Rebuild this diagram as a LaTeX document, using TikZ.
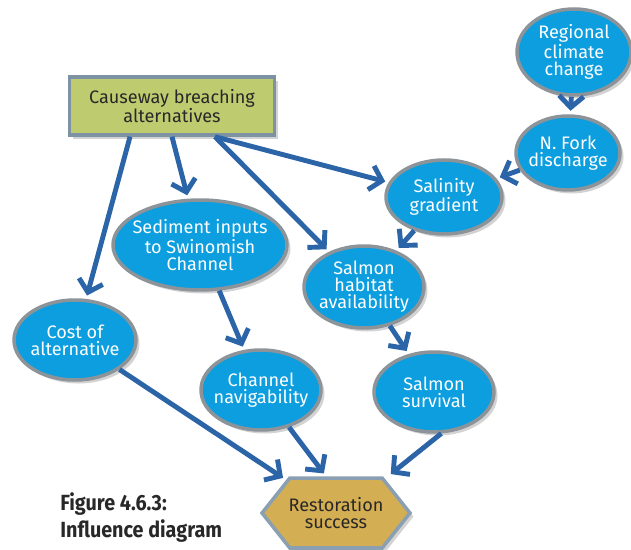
\documentclass[tikz,border=0pt]{standalone}
\usepackage{fontspec}
\setmainfont{Fira Sans}
\newfontfamily\capfont[FakeStretch=0.9]{Fira Sans}
\usetikzlibrary{shapes.geometric,shapes.symbols,shadows,arrows.meta}
\definecolor{ellfill}{RGB}{12,158,222}
\definecolor{ellline}{RGB}{140,147,153}
\definecolor{boxfill}{RGB}{190,203,111}
\definecolor{boxline}{RGB}{125,147,163}
\definecolor{hexfill}{RGB}{212,174,82}
\definecolor{hexline}{RGB}{138,160,178}
\definecolor{arrblue}{RGB}{44,100,168}
\definecolor{darktext}{RGB}{40,40,40}
\tikzset{
  ell/.style={ellipse, draw=ellline, fill=ellfill, line width=2pt, inner sep=0pt,
    drop shadow={shadow xshift=2pt, shadow yshift=-2pt, opacity=0.35}},
  etext/.style={text=white, align=center, font=\fontsize{10.3}{9.7}\selectfont},
  dtext/.style={text=darktext, align=center, font=\fontsize{10.3}{9.7}\selectfont},
  causbox/.style={rectangle, draw=boxline, fill=boxfill, line width=2pt,
    drop shadow={shadow xshift=2pt, shadow yshift=-2pt, opacity=0.35}},
  hexbox/.style={signal, signal to=west and east, signal pointer angle=103,
    draw=hexline, fill=hexfill, line width=2pt, inner sep=0pt,
    drop shadow={shadow xshift=2pt, shadow yshift=-2pt, opacity=0.35}},
  arr/.style={draw=arrblue, line width=2.8pt, -{Straight Barb[length=6.5pt,width=14pt]},
    shorten >=2pt}
}
\begin{document}
\begin{tikzpicture}[x=0.02cm, y=-0.02cm]
\useasboundingbox (0,0) rectangle (631,550);
% nodes
\node[causbox, minimum width=4.10cm, minimum height=1.16cm] (caus) at (172,106) {};
\node[dtext] (caust) at (caus) {Causeway breaching\\alternatives};
\node[ell, minimum width=2.28cm, minimum height=1.72cm] (reg) at (574,52) {};
\node[etext] (regt) at (reg) {Regional\\climate\\change};
\node[ell, minimum width=2.08cm, minimum height=1.48cm] (nfork) at (568,153) {};
\node[etext] (nforkt) at (nfork) {N. Fork\\discharge};
\node[ell, minimum width=2.32cm, minimum height=1.48cm] (sal) at (444,197) {};
\node[etext] (salt) at (sal) {Salinity\\gradient};
\node[ell, minimum width=3.48cm, minimum height=1.80cm] (sed) at (200,245) {};
\node[etext] (sedt) at (sed) {Sediment inputs\\to Swinomish\\Channel};
\node[ell, minimum width=2.40cm, minimum height=1.64cm] (hab) at (364,287) {};
\node[etext] (habt) at (hab) {Salmon\\habitat\\availability};
\node[ell, minimum width=2.44cm, minimum height=1.60cm] (cost) at (75,340) {};
\node[etext] (costt) at (cost) {Cost of\\alternative};
\node[ell, minimum width=2.40cm, minimum height=1.60cm] (chan) at (261,390) {};
\node[etext] (chant) at (chan) {Channel\\navigability};
\node[ell, minimum width=2.40cm, minimum height=1.60cm] (surv) at (434,392) {};
\node[etext] (survt) at (surv) {Salmon\\survival};
\node[hexbox, minimum width=2.96cm, minimum height=1.40cm] (rest) at (336,513) {};
\node[dtext] (restt) at (rest) {Restoration\\success};
% caption
\node[anchor=north west, align=left, text=darktext, inner sep=0pt,
  font=\capfont\bfseries\fontsize{12.5}{15.8}\selectfont] (cap) at (60,492)
  {Figure 4.6.3:\\Influence diagram};
% connectors
\draw[arr] (reg) -- (nfork);
\draw[arr] (nfork) -- (sal);
\draw[arr] ([xshift=0.86cm]caus.south) -- (sal);
\draw[arr] ([xshift=0.86cm]caus.south) -- (hab);
\draw[arr] (caus.south) -- (sed);
\draw[arr] ([xshift=-0.84cm]caus.south) -- (cost);
\draw[arr] (sal) -- (hab);
\draw[arr] (sed) -- (chan);
\draw[arr] (hab) -- (surv);
\draw[arr] (cost) -- (rest);
\draw[arr] (chan) -- ([xshift=-0.2cm]rest.north);
\draw[arr] (surv.-80) -- ([xshift=1.04cm]rest.north);
\end{tikzpicture}
\end{document}
